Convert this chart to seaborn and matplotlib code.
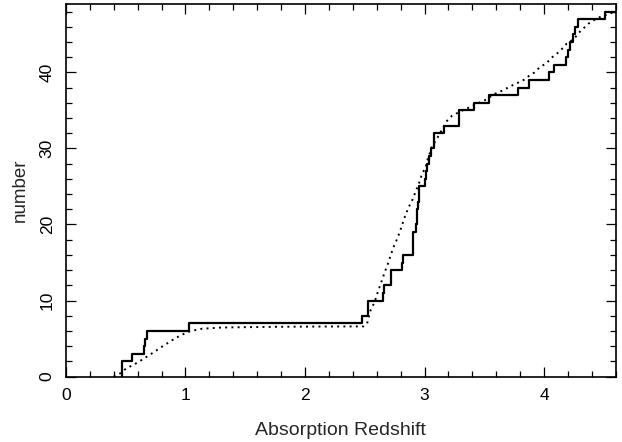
import matplotlib
matplotlib.use("Agg")
import matplotlib.pyplot as plt
from matplotlib.ticker import MultipleLocator
import seaborn as sns
import pandas as pd

# Observed absorber redshifts (each one adds a unit step)
absorber_z = [0.47, 0.47, 0.55, 0.65, 0.665, 0.68, 1.03, 2.48, 2.53, 2.53,
              2.65, 2.66, 2.72, 2.72, 2.81, 2.82, 2.90, 2.90, 2.905, 2.93,
              2.935, 2.94, 2.945, 2.95, 2.955, 3.00, 3.01, 3.02, 3.035, 3.05,
              3.08, 3.08, 3.16, 3.29, 3.29, 3.41, 3.54, 3.78, 3.87, 4.04,
              4.08, 4.18, 4.20, 4.22, 4.24, 4.26, 4.28, 4.51]
z_end = 4.6

# Expected cumulative number (dotted curve)
expected_z = [0.40, 0.456, 0.506, 0.56, 0.615, 0.665, 0.715, 0.763, 0.81, 0.86,
              0.916, 0.97, 1.03, 1.08, 1.14, 1.20, 1.30, 1.50, 1.80, 2.10,
              2.49, 2.52, 2.55, 2.58, 2.60, 2.62, 2.64, 2.66, 2.68, 2.70,
              2.72, 2.74, 2.765, 2.79, 2.81, 2.83, 2.855, 2.88, 2.90, 2.92,
              2.96, 2.98, 3.01, 3.02, 3.04, 3.065, 3.10, 3.13, 3.18, 3.23,
              3.28, 3.33, 3.39, 3.44, 3.50, 3.59, 3.65, 3.71, 3.76, 3.82,
              3.87, 3.92, 3.965, 4.02, 4.06, 4.11, 4.15, 4.19, 4.25, 4.29,
              4.33, 4.37, 4.42, 4.47, 4.51, 4.56, 4.60]
expected_n = [0.0, 0.44, 1.1, 1.5, 2.0, 2.5, 3.0, 3.5, 4.0, 4.5,
              5.05, 5.5, 5.9, 6.1, 6.3, 6.35, 6.45, 6.5, 6.55, 6.58,
              6.6, 7.0, 8.8, 9.7, 10.7, 11.6, 12.5, 13.4, 14.3, 15.1,
              16.1, 17.0, 17.9, 18.9, 19.8, 20.8, 21.8, 22.7, 23.3, 24.1,
              25.7, 26.7, 27.5, 28.3, 29.2, 30.3, 31.2, 32.0, 33.5, 34.3,
              34.7, 35.1, 35.5, 35.9, 36.3, 37.2, 37.6, 38.1, 38.5, 38.9,
              39.5, 40.0, 40.7, 41.2, 41.9, 42.5, 43.1, 43.8, 44.4, 45.2,
              45.8, 46.4, 46.9, 47.3, 47.5, 47.8, 48.0]

x_ticks = [0, 1, 2, 3, 4]
y_ticks = [0, 10, 20, 30, 40]

sns.set_theme(style="ticks")
plt.rcParams['font.family'] = ['Liberation Sans', 'DejaVu Sans']

step_x = [absorber_z[0]] + absorber_z + [z_end]
step_y = [0] + list(range(1, len(absorber_z) + 1)) + [len(absorber_z)]
obs = pd.DataFrame({"z": step_x, "n": step_y})
exp = pd.DataFrame({"z": expected_z, "n": expected_n})

fig = plt.figure(figsize=(6.22, 4.42), dpi=100)
ax = fig.add_axes([0.106, 0.148, 0.884, 0.843])

sns.lineplot(data=obs, x="z", y="n", ax=ax, estimator=None, sort=False,
             drawstyle="steps-post", color="black", linewidth=1.6)
sns.lineplot(data=exp, x="z", y="n", ax=ax, estimator=None, sort=False,
             color="black", linewidth=1.4, linestyle=(0, (1, 2.2)))

ax.set_xlim(0, 4.6)
ax.set_ylim(0, 49)
ax.set_xticks(x_ticks)
ax.set_yticks(y_ticks)
ax.xaxis.set_minor_locator(MultipleLocator(0.2))
ax.yaxis.set_minor_locator(MultipleLocator(2))
ax.tick_params(which="both", direction="in", top=True, right=True,
               color="black", width=0.9, labelsize=12.5, labelcolor="black")
ax.tick_params(which="major", length=7)
ax.tick_params(which="minor", length=4)
ax.tick_params(axis="x", pad=8)
ax.tick_params(axis="y", pad=8)
for lab in ax.get_yticklabels():
    lab.set_rotation(90)
    lab.set_va("center")
for sp in ax.spines.values():
    sp.set_linewidth(1.2)
    sp.set_color("black")

ax.set_xlabel("Absorption Redshift", fontsize=14, labelpad=14)
ax.set_ylabel("number", fontsize=13.5, labelpad=8)

fig.savefig("out.png", dpi=100)
